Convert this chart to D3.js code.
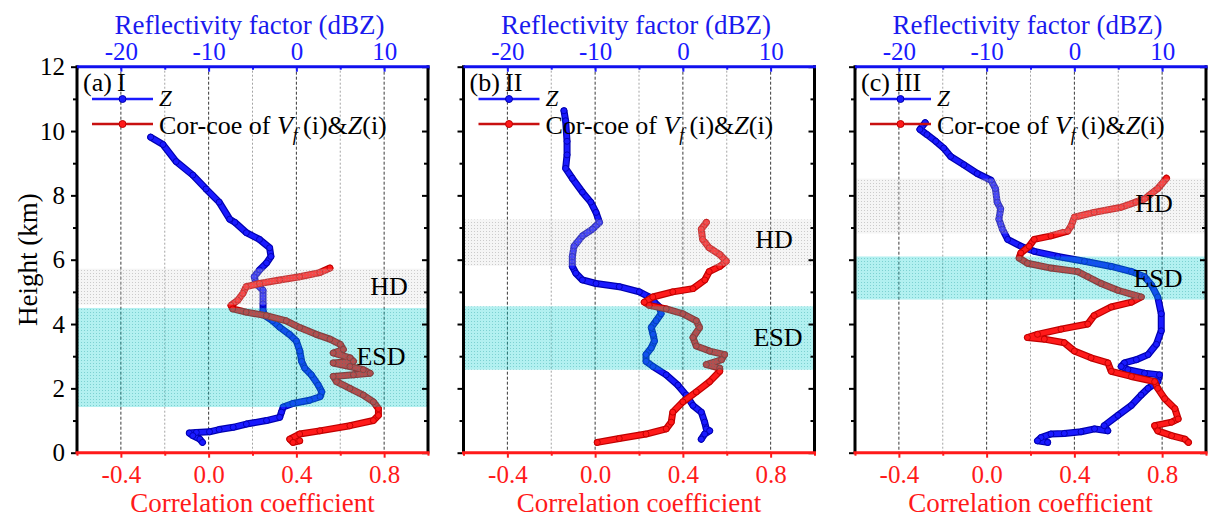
<!DOCTYPE html>
<html><head><meta charset="utf-8">
<script src="https://cdn.jsdelivr.net/npm/d3@7"></script>
<style>body{margin:0;background:#fff}svg{display:block}svg text{font-family:"Liberation Serif","DejaVu Serif","Times New Roman",serif}</style>
</head><body><svg id="c" width="1221" height="529"></svg>
<script>
// ---------- data ----------
const heightTicks = [0,2,4,6,8,10,12];
const heightMinorTicks = [1,3,5,7,9,11];
const corrTicks = [-0.4,0.0,0.4,0.8];
const corrMinorTicks = [-0.6,-0.2,0.2,0.6,1.0];
const dbzTicks = [-20,-10,0,10];
const dbzMinorTicks = [-25,-15,-5,5,15];
const panelLabels = ["(a)\u2009I","(b)\u2009II","(c)\u2009III"];
const hdBands = [[4.6,5.72],[5.81,7.25],[6.81,8.52]];
const esdBands = [[1.42,4.5],[2.58,4.55],[4.76,6.1]];

// Z profile [dBZ, km]
const zA = [[-16.6,9.81],[-15.2,9.58],[-13.7,9.05],[-11.8,8.63],[-10.3,8.2],[-8.8,7.79],[-7.6,7.26],[-7.0,7.16],[-5.7,6.84],[-4.2,6.63],[-3.05,6.37],[-2.9,6.1],[-3.4,5.9],[-4.2,5.68],[-4.8,5.47],[-4.6,5.26],[-3.8,5.05],[-3.8,4.63],[-3.8,4.42],[-3.6,4.26],[-2.7,4.1],[-1.9,3.9],[-0.8,3.68],[0,3.47],[0.4,3.16],[0.6,2.84],[0.95,2.63],[1.7,2.42],[2.5,2.1],[2.9,1.89],[2.7,1.74],[1.5,1.63],[-0.4,1.53],[-1.5,1.42],[-1.7,1.26],[-1.9,1.1],[-3.4,1.0],[-5.7,0.89],[-7.2,0.79],[-8.8,0.72],[-9.9,0.65],[-11.4,0.63],[-12.2,0.61],[-11.8,0.53],[-11.0,0.42],[-10.7,0.32]];
const zB = [[-13.55,10.63],[-13.36,10.32],[-13.2,9.68],[-13.2,9.26],[-13.36,8.84],[-12.6,8.53],[-11.45,8.1],[-10.5,7.79],[-9.9,7.47],[-9.5,7.16],[-10.3,6.95],[-11.45,6.74],[-12.4,6.42],[-12.6,6.1],[-12.6,5.79],[-12.2,5.58],[-11.45,5.37],[-9.9,5.26],[-7.25,5.16],[-4.96,5.0],[-3.8,4.84],[-3.24,4.68],[-2.67,4.53],[-2.48,4.32],[-3.05,4.1],[-3.6,3.89],[-3.4,3.68],[-3.24,3.47],[-3.6,3.26],[-4.2,3.05],[-4.2,2.84],[-3.4,2.68],[-1.9,2.42],[-0.57,2.1],[0.38,1.79],[1.15,1.47],[2.1,1.26],[2.48,0.95],[2.67,0.74],[3.05,0.68],[2.48,0.58],[2.1,0.42]];
const zC = [[-17.0,10.26],[-17.6,10.05],[-16.8,9.89],[-15.8,9.68],[-14.9,9.47],[-14.1,9.21],[-12.6,8.95],[-11.07,8.68],[-9.5,8.47],[-9.0,8.21],[-8.8,7.79],[-8.4,7.58],[-8.6,7.26],[-8.2,6.95],[-7.6,6.63],[-6.1,6.42],[-4.58,6.26],[-1.9,6.1],[1.15,5.95],[4.2,5.79],[6.5,5.63],[8.0,5.47],[8.8,5.21],[9.5,4.84],[9.9,4.32],[9.9,3.79],[9.35,3.37],[8.4,3.05],[7.06,2.89],[5.7,2.79],[5.34,2.68],[6.1,2.58],[8.0,2.47],[9.7,2.42],[9.5,2.21],[8.4,2.0],[7.6,1.79],[6.5,1.47],[4.96,1.16],[3.4,0.84],[3.8,0.68],[2.3,0.74],[0.76,0.65],[-1.15,0.6],[-2.67,0.58],[-3.8,0.47],[-4.2,0.37],[-3.05,0.32]];

// Correlation coefficient of Vf(i)&Z(i) [r, km]
const corA = [[0.553,5.74],[0.507,5.6],[0.415,5.47],[0.324,5.37],[0.232,5.26],[0.171,5.16],[0.156,4.95],[0.133,4.74],[0.102,4.58],[0.11,4.47],[0.171,4.37],[0.263,4.26],[0.354,4.1],[0.415,3.89],[0.49,3.68],[0.553,3.53],[0.6,3.37],[0.614,3.21],[0.568,3.1],[0.644,2.95],[0.66,2.84],[0.568,2.79],[0.644,2.68],[0.705,2.58],[0.736,2.47],[0.66,2.42],[0.568,2.37],[0.583,2.21],[0.644,2.0],[0.705,1.79],[0.751,1.58],[0.774,1.37],[0.774,1.16],[0.751,1.0],[0.644,0.84],[0.507,0.68],[0.415,0.58],[0.37,0.42],[0.385,0.32],[0.415,0.37]];
const corB = [[0.507,7.16],[0.484,6.95],[0.49,6.63],[0.52,6.37],[0.568,6.16],[0.598,5.95],[0.568,5.79],[0.52,5.63],[0.5,5.37],[0.446,5.1],[0.354,5.0],[0.263,4.84],[0.224,4.68],[0.247,4.58],[0.324,4.47],[0.4,4.32],[0.461,4.1],[0.476,3.89],[0.446,3.58],[0.461,3.32],[0.522,3.16],[0.59,3.05],[0.576,2.89],[0.507,2.74],[0.568,2.63],[0.568,2.53],[0.522,2.21],[0.461,1.89],[0.4,1.58],[0.354,1.26],[0.347,0.95],[0.324,0.74],[0.232,0.58],[0.11,0.44],[0.01,0.32]];
const corC = [[0.82,8.53],[0.78,8.21],[0.72,7.89],[0.68,7.79],[0.614,7.63],[0.49,7.47],[0.4,7.32],[0.385,7.05],[0.37,6.89],[0.293,6.74],[0.217,6.63],[0.194,6.42],[0.156,6.21],[0.148,6.05],[0.186,5.89],[0.293,5.74],[0.415,5.63],[0.461,5.47],[0.522,5.26],[0.598,5.05],[0.705,4.84],[0.66,4.68],[0.568,4.53],[0.49,4.26],[0.461,4.0],[0.339,3.84],[0.232,3.68],[0.186,3.58],[0.263,3.53],[0.354,3.42],[0.4,3.16],[0.476,2.95],[0.553,2.79],[0.568,2.53],[0.66,2.37],[0.766,2.21],[0.78,2.0],[0.812,1.68],[0.858,1.37],[0.873,1.05],[0.843,0.95],[0.766,0.84],[0.78,0.68],[0.843,0.53],[0.904,0.42],[0.92,0.32]];

const zSeries = [zA, zB, zC];
const corSeries = [corA, corB, corC];
const hdLabelPos = [[312,4.89],[310.5,6.37],[299,7.47]];
const esdLabelPos = [[304,2.74],[314.5,3.32],[303,5.16]];

// ---------- layout ----------
const svg = d3.select("#c");
const FONT = '"Liberation Serif","DejaVu Serif","Times New Roman",serif';
const panelLeft = [77, 463.5, 855];
const W = 351, T = 66.7, B = 452.7;
const BLUE = "#1a1aff", RED = "#ff1a1a";
const y = d3.scaleLinear().domain([0,12]).range([B,T]);
const fmtC = d => d3.format(".1f")(d).replace("\u2212","-");
const fmtZ = d => String(d);

svg.append("rect").attr("width",1221).attr("height",529).attr("fill","#fff");

// patterns
const defs = svg.append("defs");
const pHD = defs.append("pattern").attr("id","pHD").attr("width",3).attr("height",3).attr("patternUnits","userSpaceOnUse");
pHD.append("rect").attr("width",3).attr("height",3).attr("fill","rgba(215,215,215,0.25)");
pHD.append("rect").attr("width",1).attr("height",1).attr("fill","rgba(150,150,150,0.45)");
const pESD = defs.append("pattern").attr("id","pESD").attr("width",3).attr("height",3).attr("patternUnits","userSpaceOnUse");
pESD.append("rect").attr("width",3).attr("height",3).attr("fill","rgba(0,205,205,0.30)");
pESD.append("rect").attr("width",1).attr("height",1).attr("fill","rgba(0,140,140,0.30)");

const txt = (sel) => sel.append("text").attr("font-family",FONT);

txt(svg).attr("transform",`translate(37,${(T+B)/2}) rotate(-90)`)
  .attr("text-anchor","middle").attr("font-size",27).attr("fill","#000").text("Height (km)");

function drawSeries(g, data, xs, fill, edge){
  const line = d3.line().x(d=>xs(d[0])).y(d=>y(d[1]));
  g.append("path").attr("d",line(data)).attr("fill","none").attr("stroke",edge).attr("stroke-width",7).attr("stroke-linejoin","round").attr("stroke-linecap","round");
  g.append("path").attr("d",line(data)).attr("fill","none").attr("stroke",fill).attr("stroke-width",4.6).attr("stroke-linejoin","round").attr("stroke-linecap","round");
  g.selectAll(null).data(data).enter().append("circle")
    .attr("cx",d=>xs(d[0])).attr("cy",d=>y(d[1])).attr("r",3)
    .attr("fill",fill).attr("stroke",edge).attr("stroke-width",0.9);
}

panelLeft.forEach((L,i)=>{
  const xc = d3.scaleLinear().domain([-0.6,1.0]).range([L,L+W]);
  const xz = d3.scaleLinear().domain([-25,15]).range([L,L+W]);
  const g = svg.append("g");

  // grid
  g.selectAll(null).data(corrTicks).enter().append("line")
    .attr("x1",d=>xc(d)).attr("x2",d=>xc(d)).attr("y1",T).attr("y2",B)
    .attr("stroke","#222").attr("stroke-width",0.9).attr("stroke-dasharray","3,2");
  g.selectAll(null).data(corrMinorTicks.filter(d=>d>-0.6&&d<1.0)).enter().append("line")
    .attr("x1",d=>xc(d)).attr("x2",d=>xc(d)).attr("y1",T).attr("y2",B)
    .attr("stroke","#9a9a9a").attr("stroke-width",0.9).attr("stroke-dasharray","2,2");

  // series
  drawSeries(g, zSeries[i], xz, BLUE, "#0000b0");
  drawSeries(g, corSeries[i], xc, RED, "#c00000");

  // bands (overlay)
  g.append("rect").attr("x",L).attr("width",W).attr("y",y(hdBands[i][1])).attr("height",y(hdBands[i][0])-y(hdBands[i][1])).attr("fill","url(#pHD)");
  g.append("rect").attr("x",L).attr("width",W).attr("y",y(esdBands[i][1])).attr("height",y(esdBands[i][0])-y(esdBands[i][1])).attr("fill","url(#pESD)");

  // band labels
  txt(g).attr("x",L+hdLabelPos[i][0]).attr("y",y(hdLabelPos[i][1])).attr("text-anchor","middle").attr("font-size",26).text("HD");
  txt(g).attr("x",L+esdLabelPos[i][0]).attr("y",y(esdLabelPos[i][1])).attr("text-anchor","middle").attr("font-size",26).text("ESD");

  // axes
  const styleAxis = (sel, color) => {
    sel.attr("font-family",FONT);
    sel.select(".domain").remove();
    sel.selectAll(".tick line").attr("stroke",color).attr("stroke-width",2);
    sel.selectAll(".tick text").attr("fill",color).attr("font-family",FONT);
  };
  // bottom
  const ab = g.append("g").attr("transform",`translate(0,${B})`)
    .call(d3.axisBottom(xc).tickValues(corrTicks).tickSize(5).tickFormat(fmtC));
  styleAxis(ab, RED);
  ab.selectAll(".tick text").attr("font-size",25).attr("y",30.5).attr("dy",0);
  const abm = g.append("g").attr("transform",`translate(0,${B})`)
    .call(d3.axisBottom(xc).tickValues(corrMinorTicks).tickSize(3).tickFormat(""));
  styleAxis(abm, RED);
  // top
  const at = g.append("g").attr("transform",`translate(0,${T})`)
    .call(d3.axisTop(xz).tickValues(dbzTicks).tickSize(-5).tickPadding(7).tickFormat(fmtZ));
  styleAxis(at, BLUE);
  at.selectAll(".tick text").attr("font-size",25);
  const atm = g.append("g").attr("transform",`translate(0,${T})`)
    .call(d3.axisTop(xz).tickValues(dbzMinorTicks).tickSize(-3).tickFormat(""));
  styleAxis(atm, BLUE);
  // left
  const al = g.append("g").attr("transform",`translate(${L},0)`)
    .call(d3.axisLeft(y).tickValues(heightTicks).tickSize(6).tickPadding(6).tickFormat(i===0?d3.format("d"):""));
  styleAxis(al, "#000");
  al.selectAll(".tick text").attr("font-size",25);
  const alm = g.append("g").attr("transform",`translate(${L},0)`)
    .call(d3.axisLeft(y).tickValues(heightMinorTicks).tickSize(4).tickFormat(""));
  styleAxis(alm, "#000");
  // right
  const ar = g.append("g").attr("transform",`translate(${L+W},0)`)
    .call(d3.axisRight(y).tickValues(heightTicks).tickSize(-6).tickFormat(""));
  styleAxis(ar, "#000");
  const arm = g.append("g").attr("transform",`translate(${L+W},0)`)
    .call(d3.axisRight(y).tickValues(heightMinorTicks).tickSize(-4).tickFormat(""));
  styleAxis(arm, "#000");

  // frame
  g.append("line").attr("x1",L).attr("x2",L).attr("y1",T-1.5).attr("y2",B).attr("stroke","#000").attr("stroke-width",3);
  g.append("line").attr("x1",L+W).attr("x2",L+W).attr("y1",T-1.5).attr("y2",B).attr("stroke","#000").attr("stroke-width",3);
  g.append("line").attr("x1",L).attr("x2",L+W+1.5).attr("y1",T).attr("y2",T).attr("stroke","#1010ee").attr("stroke-width",3);
  g.append("line").attr("x1",L-1.5).attr("x2",L+W+1.5).attr("y1",B).attr("y2",B).attr("stroke",RED).attr("stroke-width",3);

  // axis titles
  txt(g).attr("x",L+W/2-3).attr("y",34).attr("text-anchor","middle").attr("font-size",27).attr("fill","#1a1aee").text("Reflectivity factor (dBZ)");
  txt(g).attr("x",L+W/2).attr("y",512).attr("text-anchor","middle").attr("font-size",27).attr("fill",RED).text("Correlation coefficient");

  // panel label + legend
  txt(g).attr("x",L+6).attr("y",91).attr("font-size",26).text(panelLabels[i]);
  g.append("line").attr("x1",L+15).attr("x2",L+76).attr("y1",99).attr("y2",99).attr("stroke",BLUE).attr("stroke-width",2.5);
  g.append("circle").attr("cx",L+45.5).attr("cy",99).attr("r",3.5).attr("fill",BLUE).attr("stroke","#0000b0");
  txt(g).attr("x",L+82).attr("y",105.5).attr("font-size",23).attr("font-style","italic").text("Z");
  g.append("line").attr("x1",L+15).attr("x2",L+76).attr("y1",124).attr("y2",124).attr("stroke","#c81010").attr("stroke-width",2.5);
  g.append("circle").attr("cx",L+45.5).attr("cy",124).attr("r",3.5).attr("fill",RED).attr("stroke","#c00000");
  const t = txt(g).attr("x",L+82).attr("y",134).attr("font-size",26);
  t.append("tspan").text("Cor-coe of ");
  t.append("tspan").attr("font-style","italic").text("V");
  t.append("tspan").attr("font-style","italic").attr("font-size",18).attr("dy",7).text("f");
  t.append("tspan").attr("dy",-7).text("\u2009(i)&");
  t.append("tspan").attr("font-style","italic").text("Z");
  t.append("tspan").text("(i)");
});
</script></body></html>
